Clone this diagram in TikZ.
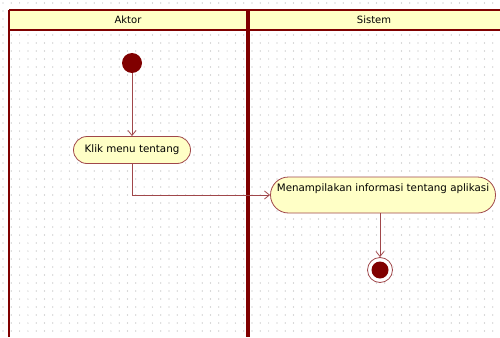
\documentclass[tikz,border=0pt]{standalone}
\usepackage{fontspec}
\setmainfont{DejaVu Sans}
\usetikzlibrary{arrows.meta,shapes.misc,positioning}
\definecolor{lanered}{HTML}{800000}
\definecolor{edgered}{HTML}{A0474A}
\definecolor{notefill}{HTML}{FFFFC6}
\definecolor{griddot}{HTML}{B4B4B4}

\begin{document}
\begin{tikzpicture}[x=1pt,y=-1pt]
\tikzstyle{action} = [rounded rectangle, draw=edgered, thick, fill=notefill,
font=\fontsize{10.3}{12}\selectfont, inner sep=2pt]
\tikzstyle{initial} = [circle, fill=lanered, minimum size=20pt, inner sep=0pt]
\tikzstyle{final} = [circle, draw=edgered, thick, fill=white, minimum size=25pt, inner sep=0pt]
\tikzstyle{flow} = [draw=edgered, thick, -{Straight Barb[length=5pt,width=8pt]}]
\tikzstyle{lanetitle} = [font=\fontsize{10}{12}\selectfont]
\useasboundingbox (0,0) rectangle (500,337);
\fill[white] (0,0) rectangle (500,337);
% dotted grid
\foreach \i in {0,...,62}
  \foreach \j in {0,...,42}
    \fill[griddot] (3+\i*8.3,3+\j*8) circle (0.6pt);
% swimlanes
\fill[notefill] (9,10) rectangle (500,30);
\draw[lanered, line width=2pt] (9,10) -- (500,10);
\draw[lanered, line width=2pt] (9,30) -- (500,30);
\draw[lanered, line width=1.5pt] (9,10) -- (9,337);
\draw[lanered, line width=3.5pt] (248,10) -- (248,337);
\node[lanetitle] (aktor) at (128,20) {Aktor};
\node[lanetitle] (sistem) at (374,20) {Sistem};
% row 1
\node [initial] (start) at (132,63) {};
\node [action, minimum width=121pt, minimum height=27pt] (klik) at (132,150) {Klik menu tentang};
% row 2
\node [action, minimum width=229pt, minimum height=36pt, text depth=15pt] (tampil) at (383,195) {Menampilakan informasi tentang aplikasi};
\node [final] (stop) at (380,270) {};
\fill[lanered] (stop.center) circle (8.5pt);
\path[flow] (start) -- (klik);
\path[flow] (klik.south) |- (tampil.west);
\path[flow] (tampil.south -| stop) -- (stop);
\end{tikzpicture}
\end{document}
